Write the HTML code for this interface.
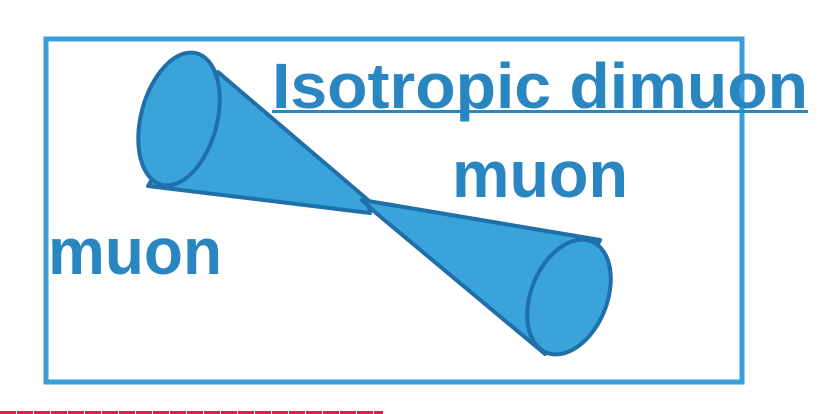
<!DOCTYPE html>
<html><head><meta charset="utf-8"><style>
html,body{margin:0;padding:0;background:#fff;width:818px;height:414px;overflow:hidden}
svg{display:block}
text{font-family:"Liberation Sans",sans-serif;font-weight:bold;fill:#2a86c0}
</style></head><body>
<svg width="818" height="414" viewBox="0 0 818 414">
  <rect x="46" y="39" width="696" height="343" fill="none" stroke="#3a9fd8" stroke-width="5"/>
  <g stroke="#1f6fa8" stroke-width="4" stroke-linejoin="round">
    <polygon points="218,72 368,200 370,213 148,186" fill="#3ba3db"/>
    <ellipse cx="179" cy="119" rx="38" ry="68" transform="rotate(15 179 119)" fill="#3ba3db"/>
  </g>
  <g stroke="#1f6fa8" stroke-width="4" stroke-linejoin="round">
    <polygon points="362,200 600,240 545,354 376,213" fill="#3ba3db"/>
    <ellipse cx="569" cy="297" rx="38" ry="60" transform="rotate(22 569 297)" fill="#3ba3db"/>
  </g>
  <text x="272" y="108" font-size="64" textLength="536" lengthAdjust="spacingAndGlyphs">Isotropic dimuon</text>
  <rect x="272" y="110" width="536" height="3" fill="#2a86c0"/>
  <text x="452" y="197" font-size="66" textLength="176" lengthAdjust="spacingAndGlyphs">muon</text>
  <text x="48" y="274" font-size="66" textLength="174" lengthAdjust="spacingAndGlyphs">muon</text>
  <line x1="0" y1="412.5" x2="383" y2="412.5" stroke="#c8284a" stroke-width="3" stroke-dasharray="16 1"/>
</svg>
</body></html>
